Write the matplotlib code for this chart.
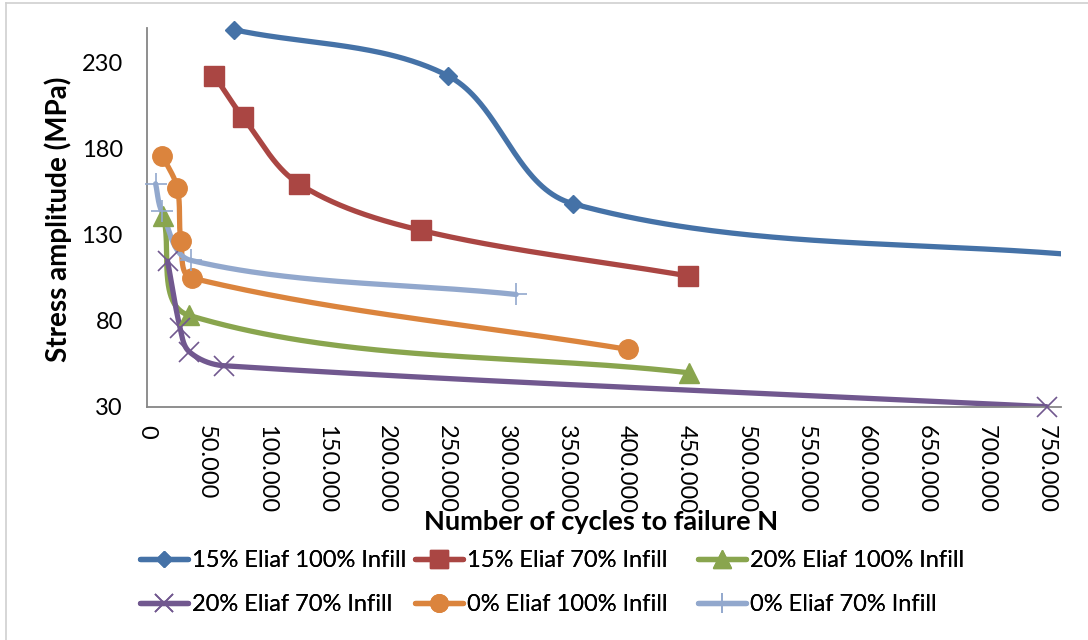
import numpy as np
import matplotlib
matplotlib.use("Agg")
import matplotlib.pyplot as plt
from matplotlib.lines import Line2D
from matplotlib.ticker import FuncFormatter, MultipleLocator, FixedLocator

# Fatigue test results: cycles to failure vs stress amplitude
series_names = [
    "15% Eliaf 100% Infill",
    "15% Eliaf 70% Infill",
    "20% Eliaf 100% Infill",
    "20% Eliaf 70% Infill",
    "0% Eliaf 100% Infill",
    "0% Eliaf 70% Infill",
]

cycles_15_100 = [73000, 251000, 355000, 800000]
stress_15_100 = [249.0, 222.3, 148.0, 116.5]

cycles_15_70 = [56500, 80000, 127000, 229000, 451000]
stress_15_70 = [222.3, 198.5, 159.5, 132.4, 106.0]

cycles_20_100 = [14000, 35700, 452000]
stress_20_100 = [141.0, 83.0, 49.7]

cycles_20_70 = [17600, 28000, 35700, 64600, 750000]
stress_20_70 = [114.5, 75.8, 61.9, 53.8, 30.0]

cycles_0_100 = [13200, 25700, 28700, 37600, 401000]
stress_0_100 = [175.9, 157.0, 126.2, 104.8, 63.3]

cycles_0_70 = [7600, 12700, 37000, 308000]
stress_0_70 = [159.5, 143.4, 115.0, 95.2]

stress_ticks = [30, 80, 130, 180, 230]

colors = ["#4572A7", "#AA4643", "#89A54E", "#71588F", "#DB843D", "#92A8CD"]
markers = ["D", "s", "^", "x", "o", "+"]
marker_sizes = [9.5, 14, 14, 14, 14, 16]

data = [
    (cycles_15_100, stress_15_100),
    (cycles_15_70, stress_15_70),
    (cycles_20_100, stress_20_100),
    (cycles_20_70, stress_20_70),
    (cycles_0_100, stress_0_100),
    (cycles_0_70, stress_0_70),
]

FONT = "Lato"
plt.rcParams["font.family"] = [FONT, "DejaVu Sans"]

W, H = 1088, 640
fig = plt.figure(figsize=(W / 100, H / 100), dpi=100)
ax_left, ax_right, ax_top, ax_bottom = 146.5, 1061.0, 28.0, 406.7
ax = fig.add_axes([ax_left / W, 1 - ax_bottom / H,
                   (ax_right - ax_left) / W, (ax_bottom - ax_top) / H])
ax.set_xlim(0, 762000)
ax.set_ylim(30, 250)

axis_gray = "#868686"
for side in ("top", "right"):
    ax.spines[side].set_visible(False)
for side in ("left", "bottom"):
    ax.spines[side].set_color(axis_gray)
    ax.spines[side].set_linewidth(1.3)

ax.xaxis.set_major_locator(MultipleLocator(50000))
ax.yaxis.set_major_locator(FixedLocator(stress_ticks))
ax.xaxis.set_major_formatter(FuncFormatter(lambda v, p: f"{int(round(v)):,}".replace(",", ".")))
ax.yaxis.set_major_formatter(FuncFormatter(lambda v, p: f"{int(round(v))}"))
ax.tick_params(axis="both", length=0, labelsize=17, colors="black")
ax.tick_params(axis="x", pad=13, labelrotation=-90)
ax.tick_params(axis="y", pad=17)
for lbl in ax.get_xticklabels():
    lbl.set_va("top")


def smooth_curve(xs, ys, n=80):
    """Bezier smoothing in display space; control arms follow the neighbour
    direction with a length of one third of the segment."""
    pts = ax.transData.transform(np.column_stack([xs, ys]))
    m = len(pts)

    def tangent(i):
        a = pts[i - 1] if i > 0 else pts[i]
        b = pts[i + 1] if i < m - 1 else pts[i]
        d = b - a
        return d / (np.hypot(*d) + 1e-12)

    out = [pts[0]]
    for i in range(m - 1):
        p1, p2 = pts[i], pts[i + 1]
        L = np.hypot(*(p2 - p1))
        c1 = p1 + tangent(i) * L / 3.0
        c2 = p2 - tangent(i + 1) * L / 3.0
        t = np.linspace(0, 1, n)[1:, None]
        seg = ((1 - t) ** 3) * p1 + 3 * ((1 - t) ** 2) * t * c1 + 3 * (1 - t) * t ** 2 * c2 + t ** 3 * p2
        out.extend(seg)
    out = np.array(out)
    back = ax.transData.inverted().transform(out)
    return back[:, 0], back[:, 1]


handles = []
for (xs, ys), c, mk, ms, name in zip(data, colors, markers, marker_sizes, series_names):
    sx, sy = smooth_curve(xs, ys)
    ax.plot(sx, sy, color=c, lw=3.8, solid_capstyle="round", zorder=2)
    mew = 1.2 if mk in ("x", "+") else 1.0
    # markers inside the x range are drawn in full, even at the top edge
    inside = [i for i, v in enumerate(xs) if v <= 762000]
    ax.plot([xs[i] for i in inside], [ys[i] for i in inside], linestyle="none",
            marker=mk, markersize=ms, markerfacecolor=c, markeredgecolor=c,
            markeredgewidth=mew, zorder=3, clip_on=False)
    handles.append(Line2D([], [], color=c, lw=3.8, solid_capstyle="round",
                          marker=mk, markersize=ms * 0.9, markerfacecolor=c,
                          markeredgecolor=c, markeredgewidth=mew, label=name))

fig.text(58 / W, 1 - 219 / H, "Stress amplitude (MPa)", rotation=90,
         ha="center", va="center", fontsize=20, fontweight="bold")
fig.text(601 / W, 1 - 522 / H, "Number of cycles to failure N",
         ha="center", va="center", fontsize=19.5, fontweight="bold")

# legend laid out as three equal-width columns, two rows
col_x = [128, 403, 686]
for k, x0 in enumerate(col_x):
    lg = fig.legend(handles=[handles[k], handles[k + 3]], ncol=1, loc="upper left",
                    bbox_to_anchor=(x0 / W, 1 - 538 / H), frameon=False,
                    fontsize=17, handlelength=2.05, handletextpad=0.15,
                    labelspacing=1.0, borderpad=0.0)
    fig.add_artist(lg)

# light outer frame of the chart area
frame_c = "#D0D0D0"
fig.add_artist(Line2D([6 / W, 1.0], [1 - 3 / H, 1 - 3 / H], color=frame_c, lw=1.2,
                      transform=fig.transFigure))
fig.add_artist(Line2D([6 / W, 6 / W], [0.0, 1 - 3 / H], color=frame_c, lw=1.2,
                      transform=fig.transFigure))

fig.savefig("out.png", dpi=100, facecolor="white")
